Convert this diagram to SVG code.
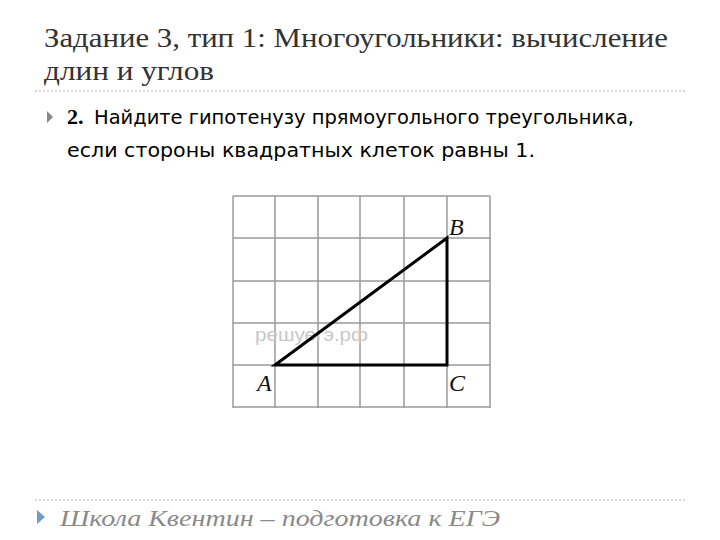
<svg xmlns="http://www.w3.org/2000/svg" width="720" height="540" viewBox="0 0 720 540">
<style>
.title{font-family:"Liberation Serif","DejaVu Serif",serif;font-size:27px;fill:#333}
.body{font-family:"DejaVu Sans","Liberation Sans",sans-serif;font-size:20px;fill:#000}
.num{font-family:"Liberation Serif",serif;font-size:22px;font-weight:bold;fill:#000}
.foot{font-family:"Liberation Serif",serif;font-style:italic;font-size:23px;fill:#8a8a8a}
.dot{stroke:#b0b0b0;stroke-width:1;stroke-dasharray:2 2}
.grid line{stroke:#9a9a9a;stroke-width:1.5}
.tri{stroke:#000;stroke-width:3;fill:none}
.lbl{font-family:"Liberation Serif",serif;font-style:italic;font-size:24px;fill:#111}
.wm{font-family:"Liberation Sans",sans-serif;font-size:18px;fill:#c8c8c8}
</style>
<rect width="720" height="540" fill="#fff"/>
<g id="title">
<text class="title" x="44" y="47" textLength="624" lengthAdjust="spacingAndGlyphs">Задание 3, тип 1: Многоугольники: вычисление</text>
<text class="title" x="44" y="80" textLength="170" lengthAdjust="spacingAndGlyphs">длин и углов</text>
<line class="dot" x1="35" y1="91" x2="686" y2="91"/>
</g>
<g id="question">
<path d="M47 111 L53 117 L47 123 Z" fill="#888"/>
<text x="67" y="124"><tspan class="num">2.</tspan><tspan class="body" x="94" textLength="540" lengthAdjust="spacingAndGlyphs">Найдите гипотенузу прямоугольного треугольника,</tspan></text>
<text class="body" x="67" y="157" textLength="468" lengthAdjust="spacingAndGlyphs">если стороны квадратных клеток равны 1.</text>
</g>
<g id="figure">
<g class="grid">
<line x1="233" y1="196" x2="233" y2="408"/>
<line x1="275" y1="196" x2="275" y2="408"/>
<line x1="318" y1="196" x2="318" y2="408"/>
<line x1="360" y1="196" x2="360" y2="408"/>
<line x1="404" y1="196" x2="404" y2="408"/>
<line x1="447" y1="196" x2="447" y2="408"/>
<line x1="490" y1="196" x2="490" y2="408"/>
<line x1="233" y1="196" x2="490" y2="196"/>
<line x1="233" y1="238" x2="490" y2="238"/>
<line x1="233" y1="281" x2="490" y2="281"/>
<line x1="233" y1="323" x2="490" y2="323"/>
<line x1="233" y1="365" x2="490" y2="365"/>
<line x1="233" y1="407" x2="490" y2="407"/>
</g>
<text class="wm" x="255" y="341" textLength="113" lengthAdjust="spacingAndGlyphs">решуегэ.рф</text>
<polygon class="tri" points="275,365 447,238 447,365"/>
<text class="lbl" x="449" y="235">B</text>
<text class="lbl" x="257" y="391">A</text>
<text class="lbl" x="449" y="391">C</text>
</g>
<g id="footer">
<line class="dot" x1="35" y1="500" x2="686" y2="500"/>
<path d="M37 510 L45 517 L37 524 Z" fill="#6f9cc4"/>
<text class="foot" x="60" y="526" textLength="440" lengthAdjust="spacingAndGlyphs">Школа Квентин – подготовка к ЕГЭ</text>
</g>
</svg>
